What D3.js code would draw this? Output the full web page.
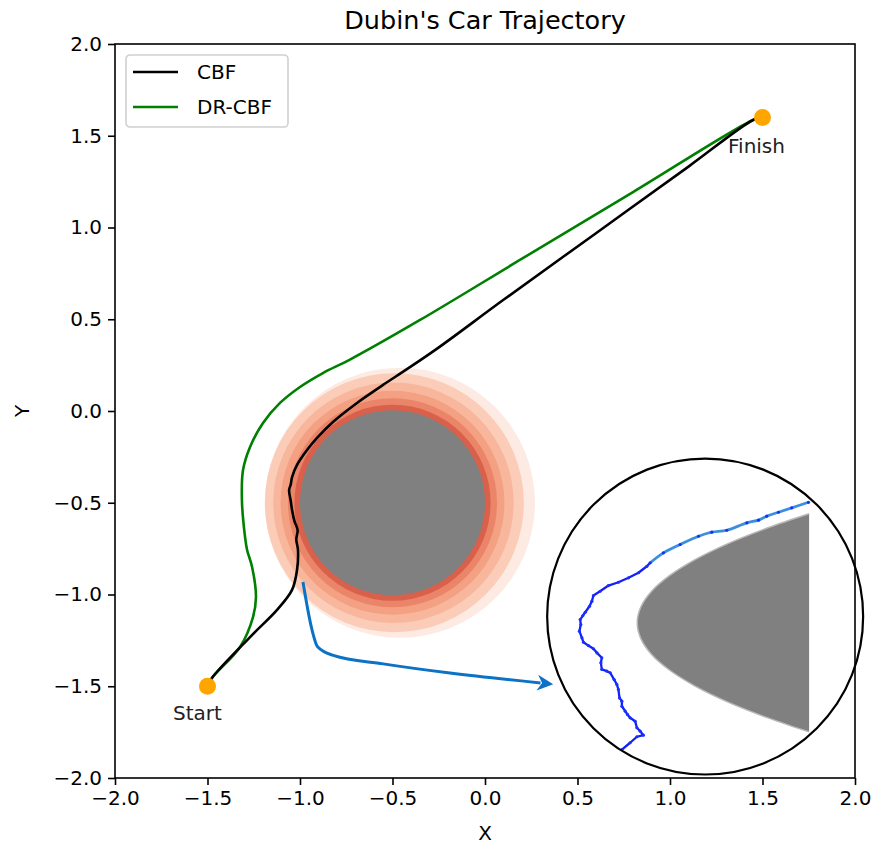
<!DOCTYPE html>
<html>
<head>
<meta charset="utf-8">
<script src="https://cdn.jsdelivr.net/npm/d3@7"></script>
<style>
  html, body { margin: 0; padding: 0; background: #fff; }
  svg { display: block; font-family: "DejaVu Sans", sans-serif; }
</style>
</head>
<body>
<svg id="chart" width="873" height="846"></svg>
<script>
// ---------------- data ----------------
const tickValues = [-2.0, -1.5, -1.0, -0.5, 0.0, 0.5, 1.0, 1.5, 2.0];

const cbfX = [-1.5, -1.476, -1.27, -1.124, -1.043, -1.016, -1.011, -1.02, -1.013, -1.03, -1.043, -1.05, -1.059, -1.05, -1.043, -1.016, -0.962, -0.908, -0.822, -0.692, -0.551, -0.422, -0.259, 0.1, 0.6, 1.1, 1.449, 1.5];
const cbfY = [-1.5, -1.455, -1.232, -1.084, -0.975, -0.866, -0.757, -0.70, -0.649, -0.60, -0.540, -0.49, -0.431, -0.40, -0.360, -0.294, -0.213, -0.147, -0.060, 0.044, 0.142, 0.228, 0.340, 0.606, 0.969, 1.332, 1.586, 1.6];

const drX = [-1.5, -1.476, -1.324, -1.254, -1.238, -1.259, -1.286, -1.297, -1.314, -1.308, -1.27, -1.2, -1.108, -1.0, -0.876, -0.73, -0.351, 0.2, 0.8, 1.449, 1.5];
const drY = [-1.5, -1.455, -1.286, -1.123, -1.014, -0.85, -0.757, -0.687, -0.485, -0.322, -0.196, -0.065, 0.044, 0.131, 0.207, 0.280, 0.496, 0.830, 1.193, 1.586, 1.6];

const pointNames = ["Start", "Finish"];
const pointX = [-1.5, 1.5];
const pointY = [-1.5, 1.6];

// obstacle: centre and radius, plus uncertainty rings (contour levels)
const obstacleCx = -0.5, obstacleCy = -0.5, obstacleR = 0.5;
const ringR  = [0.73, 0.70, 0.65, 0.605, 0.565, 0.53];
const ringCx = [-0.46, -0.49, -0.495, -0.5, -0.5, -0.5];

// arrow from CBF trajectory to zoomed inset
const arrowX = [-0.984, -0.935, -0.905, -0.82, -0.55, -0.189, 0.30];
const arrowY = [-0.932, -1.193, -1.285, -1.332, -1.378, -1.428, -1.482];

// zoomed inset (local coordinates in [-1, 1])
const insetCx = 1.19, insetCy = -1.12, insetRx = 0.854;
const zoomU = [-0.527, -0.475, -0.432, -0.391, -0.411, -0.432, -0.443, -0.475, -0.492, -0.506, -0.527, -0.527, -0.542, -0.549, -0.559, -0.576, -0.601, -0.622, -0.654, -0.660, -0.654, -0.685, -0.707, -0.739, -0.770, -0.780, -0.796, -0.787, -0.791, -0.774, -0.759, -0.732, -0.717, -0.707, -0.665, -0.612, -0.549, -0.485, -0.422, -0.369, -0.348, -0.264, -0.158, -0.042, 0.042, 0.137, 0.264, 0.338, 0.390, 0.464, 0.548, 0.654];
const zoomV = [-0.842, -0.799, -0.761, -0.751, -0.726, -0.704, -0.663, -0.641, -0.620, -0.599, -0.568, -0.536, -0.515, -0.462, -0.430, -0.399, -0.356, -0.346, -0.335, -0.293, -0.261, -0.230, -0.204, -0.184, -0.163, -0.135, -0.093, -0.051, -0.019, 0.006, 0.027, 0.065, 0.097, 0.133, 0.160, 0.196, 0.217, 0.245, 0.277, 0.318, 0.340, 0.403, 0.456, 0.508, 0.534, 0.546, 0.593, 0.610, 0.635, 0.660, 0.688, 0.723];
const zoomObsU = [0.658, 0.393, 0.141, -0.064, -0.224, -0.339, -0.407, -0.43, -0.407, -0.339, -0.224, -0.064, 0.141, 0.393, 0.658];
const zoomObsV = [0.65, 0.56, 0.46, 0.36, 0.26, 0.16, 0.06, -0.04, -0.14, -0.24, -0.34, -0.44, -0.54, -0.64, -0.73];

// ---------------- styles ----------------
const ringColors = ["#fdebe3", "#fbcdb8", "#f8b79c", "#f3a083", "#ea8569", "#d9604b"];
const margin = {left: 115, right: 18, top: 44, bottom: 68};
const W = 873, H = 846;

const svg = d3.select("#chart");
const x = d3.scaleLinear().domain([-2, 2]).range([margin.left, W - margin.right]);
const y = d3.scaleLinear().domain([-2, 2]).range([H - margin.bottom, margin.top]);
const fmt = d3.format(".1f");

svg.append("defs").append("clipPath").attr("id", "plotclip")
  .append("rect").attr("x", x(-2)).attr("y", y(2)).attr("width", x(2) - x(-2)).attr("height", y(-2) - y(2));

const plot = svg.append("g").attr("clip-path", "url(#plotclip)");

// uncertainty rings and obstacle
plot.selectAll("circle.ring").data(ringR).join("circle")
  .attr("class", "ring")
  .attr("cx", (d, i) => x(ringCx[i]))
  .attr("cy", y(obstacleCy))
  .attr("r", d => x(d) - x(0))
  .attr("fill", (d, i) => ringColors[i]);
plot.append("circle")
  .attr("cx", x(obstacleCx)).attr("cy", y(obstacleCy))
  .attr("r", x(obstacleR) - x(0))
  .attr("fill", "#808080");

// start / finish labels (beneath the lines)
const labelDx = [-10, -6], labelDy = [34, 36];
svg.selectAll("text.pl").data(pointNames).join("text").attr("class", "pl")
  .attr("x", (d, i) => x(pointX[i]) + labelDx[i])
  .attr("y", (d, i) => y(pointY[i]) + labelDy[i])
  .attr("text-anchor", "middle").attr("font-size", 20).attr("fill", "#222").text(d => d);

// trajectories
const line = d3.line().x(d => x(d[0])).y(d => y(d[1])).curve(d3.curveCatmullRom.alpha(0.5));
svg.append("path").datum(drX.map((v, i) => [v, drY[i]]))
  .attr("d", line).attr("fill", "none").attr("stroke", "#008000").attr("stroke-width", 2.6);
svg.append("path").datum(cbfX.map((v, i) => [v, cbfY[i]]))
  .attr("d", line).attr("fill", "none").attr("stroke", "#000").attr("stroke-width", 2.6);

// arrow
const arrowCol = "#0b72c6";
svg.select("defs").append("marker")
  .attr("id", "ahead").attr("viewBox", "0 0 10 10").attr("refX", 2).attr("refY", 5)
  .attr("markerUnits", "userSpaceOnUse").attr("markerWidth", 20).attr("markerHeight", 16)
  .attr("orient", "auto")
  .append("path").attr("d", "M0,0 L10,5 L0,10 L3,5 Z").attr("fill", arrowCol);
const aline = d3.line().x(d => x(d[0])).y(d => y(d[1])).curve(d3.curveMonotoneX);
svg.append("path").datum(arrowX.map((v, i) => [v, arrowY[i]]))
  .attr("d", aline).attr("fill", "none").attr("stroke", arrowCol).attr("stroke-width", 3)
  .attr("marker-end", "url(#ahead)");

// inset
const icx = x(insetCx), icy = y(insetCy), iR = x(insetRx) - x(0);
const u = d3.scaleLinear().domain([-1, 1]).range([icx - iR, icx + iR]);
const v = d3.scaleLinear().domain([-1, 1]).range([icy + iR, icy - iR]);
svg.select("defs").append("clipPath").attr("id", "insetclip")
  .append("circle").attr("cx", icx).attr("cy", icy).attr("r", iR);
svg.append("circle").attr("cx", icx).attr("cy", icy).attr("r", iR).attr("fill", "#fff");
const inset = svg.append("g").attr("clip-path", "url(#insetclip)");
const obsPts = zoomObsU.map((d, i) => [u(d), v(zoomObsV[i])]);
const obsCurve = d3.line().curve(d3.curveCatmullRom.alpha(0.5))(obsPts);
inset.append("path").attr("d", obsCurve + "Z").attr("fill", "#808080");
inset.append("path").attr("d", obsCurve).attr("fill", "none")
  .attr("stroke", "#b8b8b8").attr("stroke-width", 1.5);
const zpts = zoomU.map((d, i) => [u(d), v(zoomV[i])]);
const split = 40;
inset.append("path").datum(zpts.slice(0, split + 1)).attr("d", d3.line())
  .attr("fill", "none").attr("stroke", "#1420f5").attr("stroke-width", 2.3).attr("stroke-linejoin", "round");
inset.append("path").datum(zpts.slice(split)).attr("d", d3.line().curve(d3.curveCatmullRom))
  .attr("fill", "none").attr("stroke", "#3b8fdc").attr("stroke-width", 2.8);
inset.selectAll("circle.zd").data(zpts).join("circle").attr("class", "zd")
  .attr("cx", d => d[0]).attr("cy", d => d[1]).attr("r", 1.6).attr("fill", "#1530ff");
svg.append("circle").attr("cx", icx).attr("cy", icy).attr("r", iR)
  .attr("fill", "none").attr("stroke", "#000").attr("stroke-width", 2.2);

// start / finish markers
svg.selectAll("circle.pt").data(pointX).join("circle").attr("class", "pt")
  .attr("cx", d => x(d)).attr("cy", (d, i) => y(pointY[i])).attr("r", 8.5).attr("fill", "#ffa500");

// axes
const xAxis = d3.axisBottom(x).tickValues(tickValues).tickFormat(fmt).tickSize(7).tickPadding(6);
const yAxis = d3.axisLeft(y).tickValues(tickValues).tickFormat(fmt).tickSize(7).tickPadding(6);
const gx = svg.append("g").attr("transform", `translate(0,${y(-2)})`).call(xAxis);
const gy = svg.append("g").attr("transform", `translate(${x(-2)},0)`).call(yAxis);
[gx, gy].forEach(g => {
  g.select(".domain").remove();
  g.selectAll(".tick line").attr("stroke", "#000").attr("stroke-width", 1.6);
  g.selectAll(".tick text").attr("font-size", 20).attr("fill", "#000").attr("font-family", "DejaVu Sans");
});
svg.append("rect").attr("x", x(-2)).attr("y", y(2)).attr("width", x(2) - x(-2)).attr("height", y(-2) - y(2))
  .attr("fill", "none").attr("stroke", "#000").attr("stroke-width", 1.6);

// titles
svg.append("text").attr("x", (x(-2) + x(2)) / 2).attr("y", 29).attr("text-anchor", "middle")
  .attr("font-size", 25.5).text("Dubin's Car Trajectory");
svg.append("text").attr("x", (x(-2) + x(2)) / 2).attr("y", 840).attr("text-anchor", "middle")
  .attr("font-size", 20).text("X");
svg.append("text").attr("transform", `translate(29,${(y(-2) + y(2)) / 2}) rotate(-90)`)
  .attr("text-anchor", "middle").attr("font-size", 20).text("Y");

// legend
const legendNames = ["CBF", "DR-CBF"];
const legendColors = ["#000", "#008000"];
const lg = svg.append("g").attr("transform", `translate(${x(-2) + 11},${y(2) + 11})`);
lg.append("rect").attr("width", 162).attr("height", 72).attr("rx", 4)
  .attr("fill", "#fff").attr("fill-opacity", 0.8).attr("stroke", "#d0d0d0").attr("stroke-width", 1.6);
legendNames.forEach((n, i) => {
  lg.append("line").attr("x1", 7).attr("x2", 52).attr("y1", 17 + i * 35).attr("y2", 17 + i * 35)
    .attr("stroke", legendColors[i]).attr("stroke-width", 2.6);
  lg.append("text").attr("x", 71).attr("y", 24 + i * 35).attr("font-size", 20).text(n);
});
</script>
</body>
</html>
